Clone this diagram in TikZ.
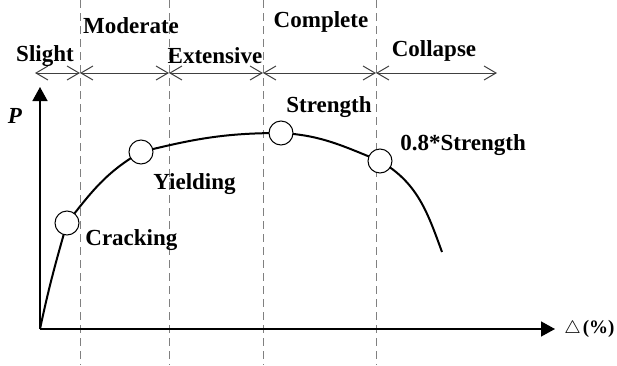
\documentclass[tikz,border=0pt]{standalone}
\usepackage{fontspec}
\setmainfont{Liberation Serif}
\usetikzlibrary{arrows.meta}

\begin{document}
\begin{tikzpicture}[x=0.5pt,y=-0.5pt,
    lbl/.style={font=\fontsize{11.5}{13}\selectfont\bfseries, inner sep=0pt},
    pt/.style={circle, draw, fill=white, line width=0.5pt, minimum size=12pt, inner sep=0pt},
    stage/.style={draw=black!75, line width=0.5pt, {Straight Barb[length=6pt,width=7pt]}-{Straight Barb[length=6pt,width=7pt]}},
    guide/.style={draw=gray, line width=0.4pt, dash pattern=on 4pt off 2.5pt},
    axis/.style={line width=0.75pt, -{Triangle[length=7pt,width=7.5pt]}}]
    \useasboundingbox (0,0) rectangle (617,365);

    % Damage limits
    \draw[guide] (80,0) -- (80,365);
    \draw[guide] (169,0) -- (169,365);
    \draw[guide] (263,0) -- (263,365);
    \draw[guide] (376,0) -- (376,365);

    % Damage states
    \coordinate (s0) at (35,73);
    \coordinate (s1) at (80,73);
    \coordinate (s2) at (169,73);
    \coordinate (s3) at (263,73);
    \coordinate (s4) at (376,73);
    \coordinate (s5) at (497,73);
    \draw[stage] (s0) -- (s1);
    \draw[stage] (s1) -- (s2);
    \draw[stage] (s2) -- (s3);
    \draw[stage] (s3) -- (s4);
    \draw[stage] (s4) -- (s5);
    \node[lbl] (slight) at (45,56) {Slight};
    \node[lbl] (moderate) at (131,26) {Moderate};
    \node[lbl] (extensive) at (215,56) {Extensive};
    \node[lbl] (complete) at (321,22) {Complete};
    \node[lbl] (collapse) at (434,51) {Collapse};

    % Axis
    \coordinate (o) at (40,329);
    \coordinate (ytip) at (40,87);
    \coordinate (xtip) at (555,329);
    \draw[axis] (o) -- (ytip);
    \draw[axis] (o) -- (xtip);
    \node[lbl, font=\fontsize{11.5}{13}\selectfont\bfseries\itshape] (plab) at (15,116) {P};
    \node[lbl, anchor=west, font=\fontsize{9.5}{11}\selectfont\bfseries] (dlab) at (564,329) {$\triangle$\hspace{1pt}(\%)};

    % Capacity curve
    \coordinate (c1) at (67,223);
    \coordinate (c2) at (141,152);
    \coordinate (c3) at (281,133);
    \coordinate (c4) at (380,161);
    \coordinate (cend) at (442,252);
    \draw[line width=1pt] (o) to[out=78,in=254] (c1)
        to[out=52,in=210] (c2)
        to[out=14,in=180] (c3)
        to[out=-3,in=158] (c4)
        to[out=-30,in=110] (cend);

    % Limit points
    \node[pt] (crack) at (c1) {};
    \node[pt] (yield) at (c2) {};
    \node[pt] (peak) at (c3) {};
    \node[pt] (drop) at (c4) {};
    \node[lbl, anchor=west] (cracklab) at (85,240) {Cracking};
    \node[lbl, anchor=west] (yieldlab) at (153,184) {Yielding};
    \node[lbl, anchor=east] (peaklab) at (372,107) {Strength};
    \node[lbl, anchor=west] (droplab) at (400,145) {0.8*Strength};
\end{tikzpicture}
\end{document}
